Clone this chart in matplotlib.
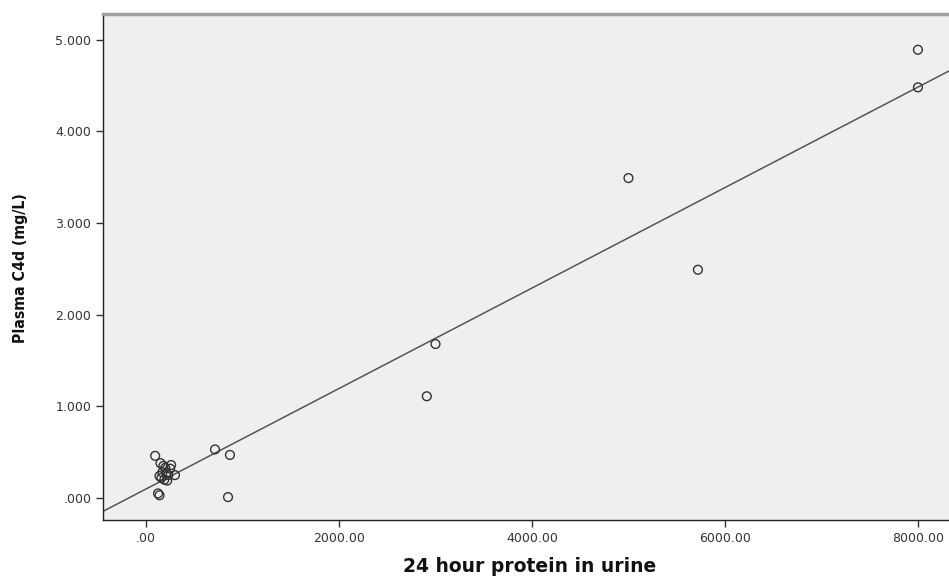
import numpy as np
import matplotlib.pyplot as plt

# 24 hour protein in urine vs plasma C4d
protein = [8000, 8000, 5000, 5720, 3000, 2910, 715, 870, 850, 95, 125, 140,
           150, 180, 200, 250, 170, 210, 230, 300, 160, 190, 220, 140, 260]
c4d = [4.89, 4.48, 3.49, 2.49, 1.68, 1.11, 0.53, 0.47, 0.01, 0.46, 0.05, 0.03,
       0.38, 0.35, 0.33, 0.32, 0.28, 0.27, 0.25, 0.25, 0.22, 0.20, 0.19, 0.24, 0.36]

xticks = [0, 2000, 4000, 6000, 8000]
xticklabels = ['.00', '2000.00', '4000.00', '6000.00', '8000.00']
yticks = [0, 1, 2, 3, 4, 5]
yticklabels = ['.000', '1.000', '2.000', '3.000', '4.000', '5.000']

fig = plt.figure(figsize=(9.49, 5.76), dpi=100)
ax = fig.add_axes([0.1085, 0.0972, 0.903, 0.8785])
ax.set_facecolor('#efefef')

xmin, xmax = -446, 8435
ax.set_xlim(xmin, xmax)
ax.set_ylim(-0.24, 5.28)

# linear fit
slope, intercept = np.polyfit(protein, c4d, 1)
xs = np.array([xmin, xmax])
ax.plot(xs, intercept + slope * xs, color='#555555', lw=1.1, zorder=2)

ax.scatter(protein, c4d, s=40, facecolors='none', edgecolors='#333333',
           linewidths=1.0, zorder=3)

ax.set_xticks(xticks)
ax.set_xticklabels(xticklabels, fontsize=9, color='#333333')
ax.set_yticks(yticks)
ax.set_yticklabels(yticklabels, fontsize=9, color='#333333')
ax.tick_params(direction='out', length=5, width=1, color='#333333')

for s in ['left', 'bottom']:
    ax.spines[s].set_color('#222222')
    ax.spines[s].set_linewidth(1.0)
ax.spines['top'].set_color('#a0a0a0')
ax.spines['top'].set_linewidth(2.5)
ax.spines['right'].set_visible(False)

fig.text(530 / 949, 1 - 566 / 576, '24 hour protein in urine', fontsize=13.5,
         fontweight='bold', color='#111111', ha='center', va='center')
fig.text(21 / 949, 1 - 268 / 576, 'Plasma C4d (mg/L)', fontsize=11.3,
         fontweight='bold', fontstretch='condensed', color='#111111',
         rotation=90, ha='center', va='center')

fig.savefig('out.png', dpi=100)
